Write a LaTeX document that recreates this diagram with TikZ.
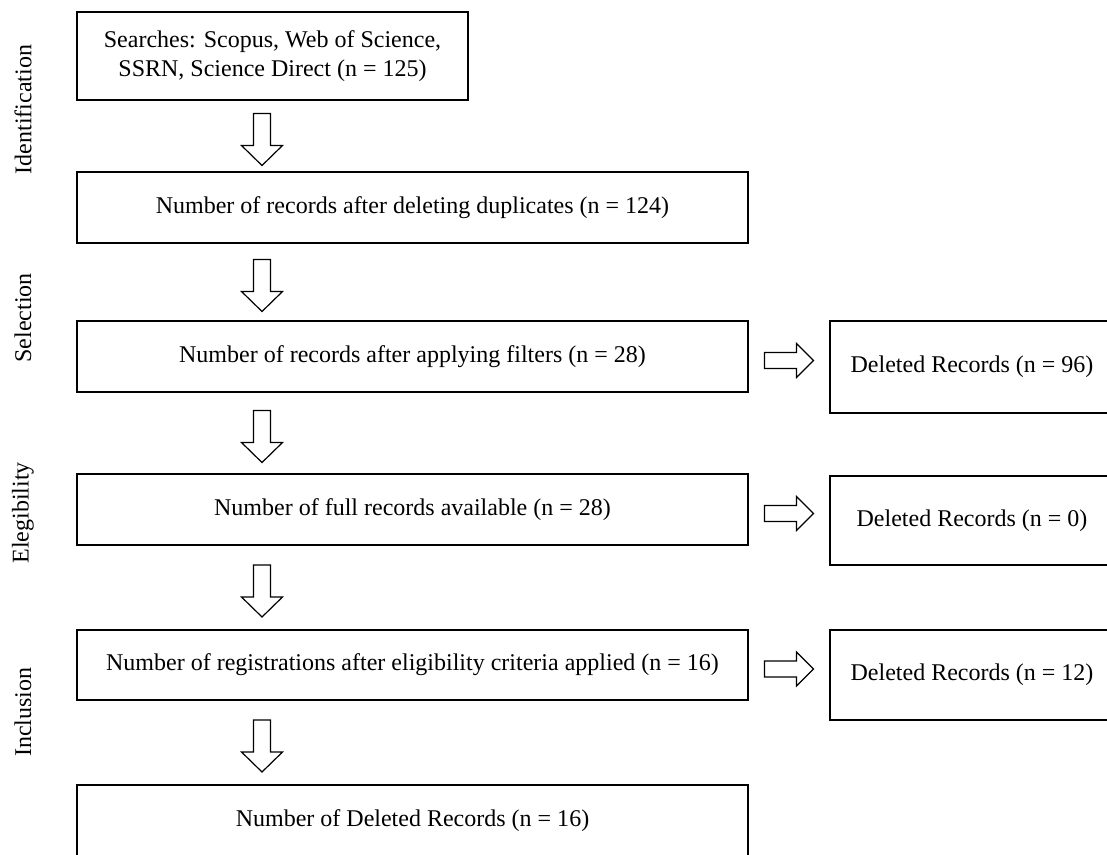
\documentclass[tikz,border=0pt]{standalone}
\usepackage{fontspec}
\setmainfont{Liberation Serif}
\newcommand{\flowdown}[2]{%
  \path (#1.south) -- (#2.north) coordinate[pos=.5] (m);
  \begin{scope}[shift={(m -| arrx)}]
    \draw[blk] (-8.5,-22.5) -- (-8.5,9.5) -- (-20.5,9.5) -- (0,29.5) -- (20.5,9.5) -- (8.5,9.5) -- (8.5,-22.5) -- cycle;
  \end{scope}}
\newcommand{\flowright}[2]{%
  \path (#1.east) -- (#1.east -| #2.west) coordinate[pos=.5] (m);
  \begin{scope}[shift={(m)}]
    \draw[blk] (-24.5,-4) -- (7.5,-4) -- (7.5,-13) -- (24.5,4) -- (7.5,21) -- (7.5,12) -- (-24.5,12) -- cycle;
  \end{scope}}
\begin{document}
\begin{tikzpicture}[x=0.5pt, y=-0.5pt,
    box/.style={draw, line width=0.9pt, inner sep=0pt, align=center, font=\fontsize{12}{14.4}\selectfont},
    wide/.style={box, minimum width=335.5pt, minimum height=35.5pt},
    side/.style={box, minimum width=142pt},
    phase/.style={rotate=90, inner sep=0pt, font=\fontsize{12}{14.4}\selectfont},
    blk/.style={draw, line width=0.6pt, fill=white, line join=miter}]
    \useasboundingbox (0,0) rectangle (1107,855);
    \coordinate (arrx) at (262,0);
    \node[phase] (ident) at (23,109.5) {Identification};
    \node[phase] (selec) at (23,318) {Selection};
    \node[phase] (elig) at (23,513) {Elegibility};
    \node[phase] (incl) at (23,712) {Inclusion};
    \node[box, minimum width=195.5pt, minimum height=44pt] (search) at (272.5,56) {Searches: Scopus, Web of Science,\\SSRN, Science Direct (n = 125)};
    \node[wide] (dupl) at (412.5,207.5) {Number of records after deleting duplicates (n = 124)};
    \node[wide] (filt) at (412.5,356.5) {Number of records after applying filters (n = 28)};
    \node[wide] (full) at (412.5,509.5) {Number of full records available (n = 28)};
    \node[wide, minimum height=35pt] (regs) at (412.5,665) {Number of registrations after eligibility criteria applied (n = 16)};
    \node[wide] (final) at (412.5,820.5) {Number of Deleted Records (n = 16)};
    \node[side, minimum height=46pt] (del1) at (972,367) {Deleted Records (n = 96)};
    \node[side, minimum height=44.5pt] (del2) at (972,520.5) {Deleted Records (n = 0)};
    \node[side, minimum height=45pt] (del3) at (972,675) {Deleted Records (n = 12)};
    \flowdown{search}{dupl}
    \flowdown{dupl}{filt}
    \flowdown{filt}{full}
    \flowdown{full}{regs}
    \flowdown{regs}{final}
    \flowright{filt}{del1}
    \flowright{full}{del2}
    \flowright{regs}{del3}
\end{tikzpicture}
\end{document}
